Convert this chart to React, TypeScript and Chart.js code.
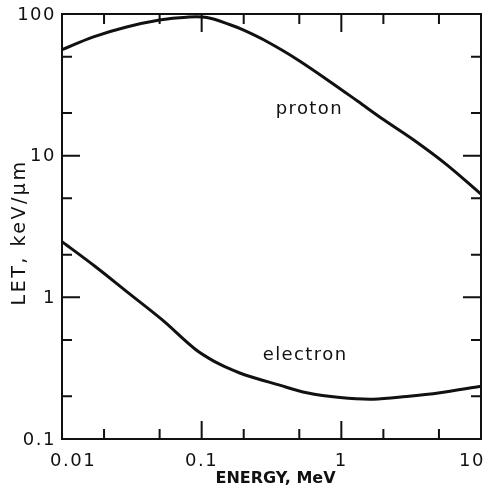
import React, { useEffect, useRef } from "react";
import { Chart, registerables } from "chart.js";

Chart.register(...registerables);

// Proton LET curve (energy MeV, LET keV/µm)
const protonEnergy = [0.01, 0.0168, 0.029, 0.05, 0.078, 0.109, 0.16, 0.2, 0.28, 0.48, 0.83, 1.32, 2.0, 3.3, 5.67, 10];
const protonLET = [56, 69, 81, 90.7, 95, 94.5, 84, 77, 65.5, 48, 33.3, 24.1, 18.0, 12.9, 8.65, 5.35];

// Electron LET curve
const electronEnergy = [0.01, 0.0173, 0.03, 0.052, 0.09, 0.125, 0.16, 0.205, 0.356, 0.566, 0.98, 1.69, 2.93, 5.08, 10];
const electronLET = [2.47, 1.65, 1.07, 0.695, 0.43, 0.35, 0.312, 0.283, 0.241, 0.212, 0.196, 0.191, 0.1995, 0.212, 0.236];

// Axis ticks and labels
const xMajorTicks = [0.01, 0.1, 1, 10];
const xMinorTicks = [0.02, 0.05, 0.2, 0.5, 2, 5];
const xTickLabels = ["0.01", "0.1", "1", "10"];
const yMajorTicks = [0.1, 1, 10, 100];
const yMinorTicks = [0.2, 0.5, 2, 5, 20, 50];
const yTickLabels = ["0.1", "1", "10", "100"];

const xTitle = "ENERGY, MeV";
const yTitle = "LET, keV/\u03bcm";

// Curve labels (text, anchor in data coordinates)
const curveLabelTexts = ["proton", "electron"];
const curveLabelX = [0.59, 0.55];
const curveLabelY = [21.2, 0.39];

const INK = "#111";
const FONT = "'DejaVu Sans', sans-serif";

const framePlugin = {
  id: "frameTicksLabels",
  afterDatasetsDraw(chart: any) {
    const ctx = chart.ctx as CanvasRenderingContext2D;
    const area = chart.chartArea;
    const xs = chart.scales.x;
    const ys = chart.scales.y;
    const MAJOR = 18;
    const MINOR = 10;
    ctx.save();
    ctx.strokeStyle = INK;
    ctx.fillStyle = INK;
    ctx.lineWidth = 2;
    ctx.lineCap = "butt";
    // frame
    ctx.strokeRect(area.left, area.top, area.right - area.left, area.bottom - area.top);
    // ticks
    ctx.beginPath();
    const xTick = (v: number, len: number) => {
      const px = xs.getPixelForValue(v);
      ctx.moveTo(px, area.bottom);
      ctx.lineTo(px, area.bottom - len);
      ctx.moveTo(px, area.top);
      ctx.lineTo(px, area.top + len);
    };
    const yTick = (v: number, len: number) => {
      const py = ys.getPixelForValue(v);
      ctx.moveTo(area.left, py);
      ctx.lineTo(area.left + len, py);
      ctx.moveTo(area.right, py);
      ctx.lineTo(area.right - len, py);
    };
    xMajorTicks.forEach((v) => xTick(v, MAJOR));
    xMinorTicks.forEach((v) => xTick(v, MINOR));
    yMajorTicks.forEach((v) => yTick(v, MAJOR));
    yMinorTicks.forEach((v) => yTick(v, MINOR));
    ctx.stroke();

    // tick labels
    (ctx as any).letterSpacing = "1.5px";
    ctx.font = `18px ${FONT}`;
    ctx.textBaseline = "middle";
    ctx.textAlign = "left";
    xMajorTicks.forEach((v, i) => {
      const t = xTickLabels[i];
      const w = ctx.measureText(t).width;
      let left = xs.getPixelForValue(v) - w / 2;
      left = Math.max(left, area.left - 12);
      left = Math.min(left, area.right + 4 - w);
      ctx.fillText(t, left, area.bottom + 22);
    });
    ctx.textAlign = "right";
    yMajorTicks.forEach((v, i) => {
      ctx.fillText(yTickLabels[i], area.left - 6, ys.getPixelForValue(v) + 1);
    });

    // curve labels
    ctx.textAlign = "center";
    (ctx as any).letterSpacing = "1.4px";
    curveLabelTexts.forEach((t, i) => {
      ctx.fillText(t, xs.getPixelForValue(curveLabelX[i]), ys.getPixelForValue(curveLabelY[i]));
    });

    // axis titles
    (ctx as any).letterSpacing = "0px";
    ctx.font = `bold 16px ${FONT}`;
    ctx.textAlign = "center";
    ctx.fillText(xTitle, (area.left + area.right) / 2 + 4, area.bottom + 40);

    ctx.save();
    ctx.translate(20, (area.top + area.bottom) / 2 + 6);
    ctx.rotate(-Math.PI / 2);
    ctx.font = `19px ${FONT}`;
    (ctx as any).letterSpacing = "2.5px";
    ctx.fillText(yTitle, 0, 0);
    ctx.restore();

    ctx.restore();
  },
};

export default function App() {
  const canvasRef = useRef<HTMLCanvasElement | null>(null);

  useEffect(() => {
    if (!canvasRef.current) return;
    const toPoints = (xs: number[], ys: number[]) => xs.map((x, i) => ({ x, y: ys[i] }));
    const chart = new Chart(canvasRef.current, {
      type: "line",
      data: {
        datasets: [
          {
            label: "proton",
            data: toPoints(protonEnergy, protonLET),
            borderColor: INK,
            borderWidth: 3,
            pointRadius: 0,
            tension: 0.35,
            fill: false,
          },
          {
            label: "electron",
            data: toPoints(electronEnergy, electronLET),
            borderColor: INK,
            borderWidth: 3,
            pointRadius: 0,
            tension: 0.35,
            fill: false,
          },
        ],
      },
      options: {
        animation: false,
        responsive: false,
        maintainAspectRatio: false,
        layout: { padding: { left: 62, top: 14, right: 13, bottom: 60 } },
        plugins: {
          legend: { display: false },
          tooltip: { enabled: false },
          title: { display: false },
        },
        scales: {
          x: { type: "logarithmic", min: 0.01, max: 10, display: false },
          y: { type: "logarithmic", min: 0.1, max: 100, display: false },
        },
      },
      plugins: [framePlugin],
    });
    return () => chart.destroy();
  }, []);

  return (
    <div style={{ position: "fixed", left: 0, top: 0, width: 494, height: 499, background: "#fff" }}>
      <canvas ref={canvasRef} width={494} height={499} style={{ display: "block" }} />
    </div>
  );
}
